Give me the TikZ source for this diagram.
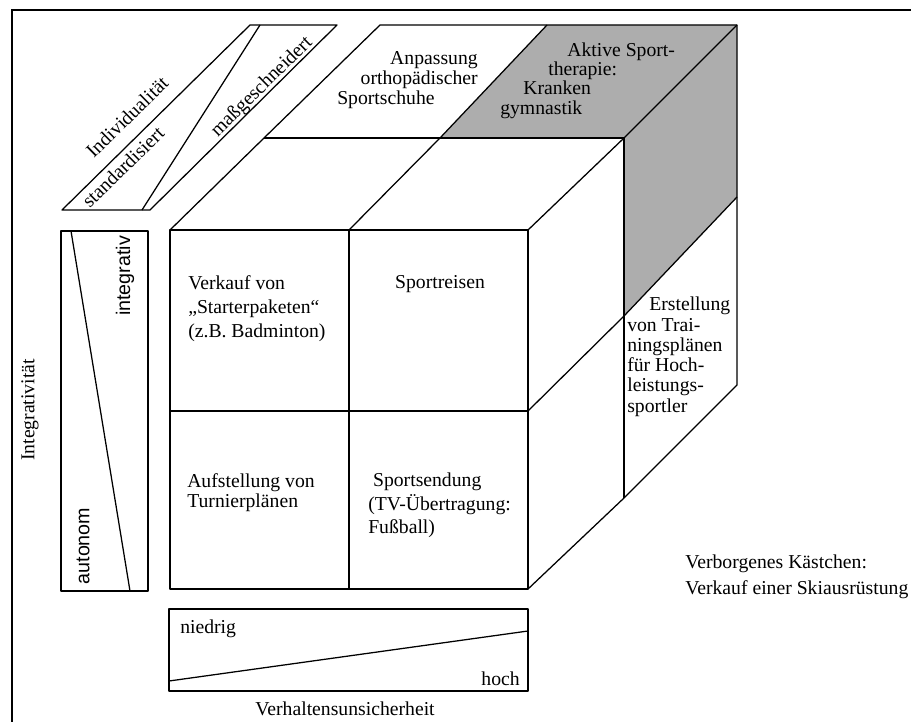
\documentclass[tikz,border=0pt]{standalone}
\usepackage{fontspec}
\setmainfont{Liberation Serif}
\newfontfamily\arialfont{Liberation Sans}
\begin{document}
\begin{tikzpicture}[x=0.025cm,y=-0.025cm]
  \tikzstyle{kante}=[line width=0.9pt,line join=round]
  \tikzset{schrift/.style = {font=\fontsize{14}{17}\selectfont, inner sep=0pt}}
  \tikzset{grau/.style = {fill=black!32}}
  \useasboundingbox (0,0) rectangle (911,722);
  \draw[line width=1.4pt] (911,10) -- (12,10) -- (12,722);
  % Ecken des Wuerfels
  \coordinate (v00) at (170,230);
  \coordinate (v10) at (349,230);
  \coordinate (v20) at (528,230);
  \coordinate (v01) at (170,411);
  \coordinate (v21) at (528,411);
  \coordinate (v12) at (349,589);
  \coordinate (v22) at (528,589);
  \coordinate (m0) at (264,138);
  \coordinate (m1) at (440,138);
  \coordinate (m2) at (624,138);
  \coordinate (m3) at (624,316);
  \coordinate (m4) at (624,498);
  \coordinate (h0) at (380,25);
  \coordinate (h1) at (547,25);
  \coordinate (h2) at (737,25);
  \coordinate (h3) at (737,197);
  \coordinate (h4) at (737,385);
  \fill[grau] (m1) -- (h1) -- (h2) -- (m2) -- cycle;
  \fill[grau] (m2) -- (h2) -- (h3) -- (m3) -- cycle;
  \draw[kante] (v00) rectangle (v22);
  \draw[kante] (v10) -- (v12);
  \draw[kante] (v01) -- (v21);
  \draw[kante] (v00) -- (m0) -- (h0) -- (h2) -- (h4) -- (m4) -- (v22);
  \draw[kante] (v10) -- (m1) -- (h1);
  \draw[kante] (v20) -- (m2) -- (h2);
  \draw[kante] (m0) -- (m2) -- (m4);
  \draw[kante] (v21) -- (m3) -- (h3);
  % Achse Individualitaet
  \coordinate (i1) at (62,210);
  \coordinate (i2) at (150,210);
  \coordinate (i3) at (337,25);
  \coordinate (i4) at (250,25);
  \coordinate (i5) at (142,210);
  \coordinate (i6) at (260,25);
  \draw[kante] (i1) -- (i2) -- (i3) -- (i4) -- cycle;
  \draw[kante] (i5) -- (i6);
  \node[schrift, rotate=44.5] (indiv) at (127,117) {Individualität};
  \node[schrift, rotate=44.5] (standard) at (123,167) {standardisiert};
  \node[schrift, rotate=44.5] (mass) at (262,87) {maßgeschneidert};
  % Achse Integrativitaet
  \coordinate (l1) at (61,231);
  \coordinate (l2) at (148,591);
  \coordinate (l3) at (71,231);
  \coordinate (l4) at (130,591);
  \draw[kante] (l1) rectangle (l2);
  \draw[kante] (l3) -- (l4);
  \node[schrift, font=\arialfont\fontsize{14}{17}\selectfont, rotate=90] (integ) at (125,276) {integrativ};
  \node[schrift, font=\arialfont\fontsize{14}{17}\selectfont, rotate=90] (auto) at (83,546) {autonom};
  \node[schrift, rotate=90] (integachse) at (30,410) {Integrativität};
  % Achse Verhaltensunsicherheit
  \coordinate (u1) at (169,609);
  \coordinate (u2) at (528,691);
  \coordinate (u3) at (169,681);
  \coordinate (u4) at (528,631);
  \draw[kante] (u1) rectangle (u2);
  \draw[kante] (u3) -- (u4);
  \node[schrift, anchor=base west] (niedrig) at (180,633) {niedrig};
  \node[schrift, anchor=base east] (hoch) at (520,685) {hoch};
  \node[schrift, anchor=base] (verhalten) at (345,715) {Verhaltensunsicherheit};
  % Vorderseite
  \node[schrift, anchor=north west, align=left, font=\fontsize{14}{17.3}\selectfont] (verkauf) at (188,275)
    {Verkauf von\\„Starterpaketen“\\(z.B. Badminton)};
  \node[schrift, anchor=base] (reisen) at (440,288) {Sportreisen};
  \node[schrift, anchor=north west, align=left, font=\fontsize{14}{14.6}\selectfont] (turnier) at (187,473)
    {Aufstellung von\\Turnierplänen};
  \node[schrift, anchor=north west, align=left, font=\fontsize{14}{16.6}\selectfont] (sendung) at (368,473)
    {\hspace*{1.2mm}Sportsendung\\(TV-Übertragung:\\Fußball)};
  % Oberseite
  \node[schrift, anchor=base east] (anp1) at (478,65) {Anpassung};
  \node[schrift, anchor=base east] (anp2) at (478,85) {orthopädischer};
  \node[schrift, anchor=base west] (anp3) at (337,105) {Sportschuhe};
  \node[schrift, anchor=base west] (akt1) at (567,57) {Aktive Sport-};
  \node[schrift, anchor=base west] (akt2) at (548,76) {therapie:};
  \node[schrift, anchor=base west] (akt3) at (523,95) {Kranken};
  \node[schrift, anchor=base west] (akt4) at (500,115) {gymnastik};
  % rechte Seite
  \node[schrift, anchor=north west, align=left, font=\fontsize{14}{14.4}\selectfont] (training) at (627,297)
    {\hspace*{0.55cm}Erstellung\\von Trai-\\ningsplänen\\für Hoch-\\leistungs-\\sportler};
  \node[schrift, anchor=north west, align=left, font=\fontsize{14}{18.5}\selectfont] (verborgen) at (685,555)
    {Verborgenes Kästchen:\\Verkauf einer Skiausrüstung};
\end{tikzpicture}
\end{document}
